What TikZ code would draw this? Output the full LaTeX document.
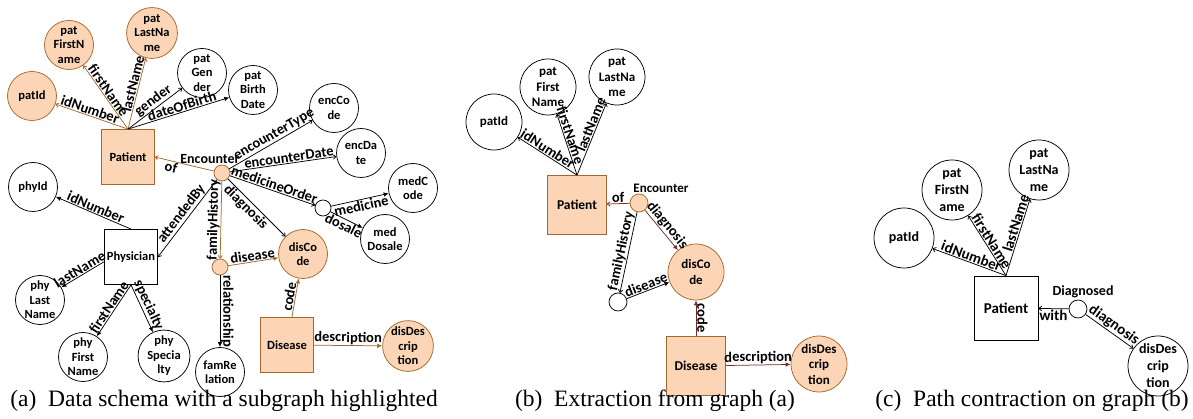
\documentclass[tikz,border=0pt]{standalone}
\usepackage{fontspec}
\setmainfont{Carlito}
\newfontfamily\capfont{Liberation Serif}
\usetikzlibrary{arrows.meta}
\definecolor{hlfill}{RGB}{251,213,181}
\definecolor{hlline}{RGB}{163,104,45}
\definecolor{hlred}{RGB}{122,42,42}

\begin{document}
\begin{tikzpicture}[
  x=1pt, y=-1pt,
  line width=0.75pt,
  >={To[length=3.5pt,width=5pt]},
  attr/.style={draw, circle, minimum size=49pt, inner sep=0pt, align=center, font=\fontsize{12.5}{14.5}\selectfont\bfseries},
  ent/.style={draw, minimum width=53pt, minimum height=55pt, inner sep=0pt, font=\fontsize{12.5}{14.5}\selectfont\bfseries},
  rel/.style={draw, circle, minimum size=16pt, inner sep=0pt},
  hl/.style={fill=hlfill, draw=hlline},
  lbl/.style={font=\fontsize{14.5}{16}\selectfont\bfseries, text=black, sloped, inner sep=0.8pt},
  tri/.style={-{Latex[length=5pt,width=4.5pt]}},
  subcap/.style={font=\capfont\fontsize{23.5}{26}\selectfont}
]
\useasboundingbox (0,0) rectangle (1193,419);

% (a) full data schema
\node[ent, hl] (patA) at (128,157) {Patient};
\node[attr, hl] (patIdA) at (32,96) {patId};
\node[attr, hl] (patFirstA) at (69,45) {pat\\FirstN\\ame};
\node[attr, hl] (patLastA) at (152,33) {pat\\LastNa\\me};
\node[attr] (patGenderA) at (202,73) {pat\\Gen\\der};
\node[attr] (patBirthA) at (253,90) {pat\\Birth\\Date};
\node[rel, hl, label={[font=\fontsize{14}{16}\selectfont\bfseries, xshift=-12pt, inner sep=0.5pt]above:Encounter}] (encA) at (222,173) {};
\node[attr] (encCodeA) at (334,108) {encCo\\de};
\node[attr] (encDateA) at (361,153) {encDa\\te};
\node[rel] (medA) at (323,208) {};
\node[attr] (medCodeA) at (413,188) {medC\\ode};
\node[attr] (medDosA) at (385,239) {med\\Dosale};
\node[attr, hl] (disCodeA) at (303,254) {disCo\\de};
\node[rel, hl] (famA) at (220,267) {};
\node[attr] (famRelA) at (220,372) {famRe\\lation};
\node[ent, hl] (disA) at (287,345) {Disease};
\node[attr, hl] (disDescA) at (408,346) {disDes\\crip\\tion};
\node[ent] (phyA) at (131,257) {Physician};
\node[attr] (phyIdA) at (33,187) {phyId};
\node[attr] (phyLastA) at (40,300) {phy\\Last\\Name};
\node[attr] (phyFirstA) at (83,357) {phy\\First\\Name};
\node[attr] (phySpecA) at (164,356) {phy\\Specia\\lty};

\draw[->, hlline] (patA.north) -- node[lbl, above, pos=0.55]{idNumber} (patIdA);
\draw[->, hlline] (patA.north) -- node[lbl, above, pos=0.55]{firstName} (patFirstA);
\draw[->, hlline] (patA.north) -- node[lbl, above, pos=0.62]{lastName} (patLastA);
\draw[->] (patA.north) -- node[lbl, above, pos=0.55]{gender} (patGenderA);
\draw[tri] (patA.north) -- node[lbl, above, pos=0.55]{dateOfBirth} (patBirthA);
\draw[->, hlline] (encA) -- node[lbl, below, pos=0.7]{of} (patA.east);
\draw[->] (encA) -- node[lbl, above, pos=0.58]{encounterType} (encCodeA);
\draw[->] (encA) -- node[lbl, above, pos=0.56]{encounterDate} (encDateA);
\draw[->] (encA) -- node[lbl, above]{medicineOrder} (medA);
\draw[tri] (medA) -- node[lbl, below]{medicine} (medCodeA);
\draw[tri] (medA) -- node[lbl, below]{dosale} (medDosA);
\draw[->] (encA) -- node[lbl, below, pos=0.4]{diagnosis} (disCodeA);
\draw[->, hlline] (encA) -- node[lbl, above]{familyHistory} (famA);
\draw[tri, hlline] (famA) -- node[lbl, above]{disease} (disCodeA);
\draw[tri] (famA) -- node[lbl, above]{relationship} (famRelA);
\draw[tri, hlline] (disA) -- node[lbl, above]{code} (disCodeA);
\draw[tri, hlline] (disA) -- node[lbl, above]{description} (disDescA);
\draw[->] (encA) -- node[lbl, above]{attendedBy} (phyA.east);
\draw[tri] (phyA.north) -- node[lbl, above]{idNumber} (phyIdA);
\draw[tri] (phyA.190) -- node[lbl, above]{lastName} (phyLastA);
\draw[tri] (phyA.south) -- node[lbl, above]{firstName} (phyFirstA);
\draw[tri] (phyA.south) -- node[lbl, above]{specialty} (phySpecA);

% (b) extracted subgraph
\begin{scope}[attr/.append style={minimum size=56pt, font=\fontsize{13}{15.5}\selectfont\bfseries},
  ent/.append style={minimum width=59pt, minimum height=59pt, font=\fontsize{13.5}{16}\selectfont\bfseries},
  rel/.append style={minimum size=18pt}]
\node[ent, hl] (patB) at (577,205) {Patient};
\node[attr] (patIdB) at (494,122) {patId};
\node[attr] (patFirstB) at (548,87) {pat\\First\\Name};
\node[attr] (patLastB) at (617,77) {pat\\LastNa\\me};
\node[rel, hl, label={[font=\fontsize{13}{15}\selectfont\bfseries, xshift=22pt, inner sep=1pt]above:Encounter}] (encB) at (639,203) {};
\node[attr, hl] (disCodeB) at (696,272) {disCo\\de};
\node[rel] (famB) at (618,302) {};
\node[ent, hl] (disB) at (696,366) {Disease};
\node[attr, hl] (disDescB) at (819,364) {disDes\\crip\\tion};
\end{scope}

\draw[->] (patB.north) -- node[lbl, above, pos=0.55]{idNumber} (patIdB);
\draw[->] (patB.north) -- node[lbl, above, pos=0.62]{firstName} (patFirstB);
\draw[->] (patB.north) -- node[lbl, above, pos=0.67]{lastName} (patLastB);
\draw[->, hlred] (encB) -- node[lbl, above]{of} (patB);
\draw[tri, hlred] (encB) -- node[lbl, above]{diagnosis} (disCodeB);
\draw[->] (encB) -- node[lbl, above]{familyHistory} (famB);
\draw[tri] (famB) -- node[lbl, above]{disease} (disCodeB);
\draw[{Latex[length=5pt,width=4.5pt]}-, hlred] (disCodeB) -- node[lbl, above]{code} (disB);
\draw[tri, hlred] (disB) -- node[lbl, above]{description} (disDescB);

% (c) after path contraction
\begin{scope}[attr/.append style={minimum size=60pt, font=\fontsize{14}{17}\selectfont\bfseries},
  ent/.append style={minimum width=64pt, minimum height=64pt, font=\fontsize{15}{17}\selectfont\bfseries},
  rel/.append style={minimum size=18pt},
  lbl/.append style={font=\fontsize{15}{17}\selectfont\bfseries}]
\node[ent] (patC) at (1006,308) {Patient};
\node[attr] (patIdC) at (904,238) {patId};
\node[attr] (patFirstC) at (952,190) {pat\\FirstN\\ame};
\node[attr] (patLastC) at (1039,170) {pat\\LastNa\\me};
\node[rel, label={[font=\fontsize{14}{16}\selectfont\bfseries, xshift=5pt, inner sep=1pt]above:Diagnosed}] (dwC) at (1078,309) {};
\node[attr] (disDescC) at (1158,366) {disDes\\crip\\tion};

\draw[->] (patC.north) -- node[lbl, above]{idNumber} (patIdC);
\draw[->] (patC.north) -- node[lbl, above, pos=0.52]{firstName} (patFirstC);
\draw[->] (patC.north) -- node[lbl, above, pos=0.66]{lastName} (patLastC);
\draw[->] (dwC) -- node[lbl, below]{with} (patC);
\draw[->] (dwC) -- node[lbl, above]{diagnosis} (disDescC);
\end{scope}

% captions
\node[subcap] (capA) at (224,401) {(a)\enskip Data schema with a subgraph highlighted};
\node[subcap] (capB) at (655,401) {(b)\enskip Extraction from graph (a)};
\node[subcap] (capC) at (1032,401) {(c)\enskip Path contraction on graph (b)};
\end{tikzpicture}
\end{document}
